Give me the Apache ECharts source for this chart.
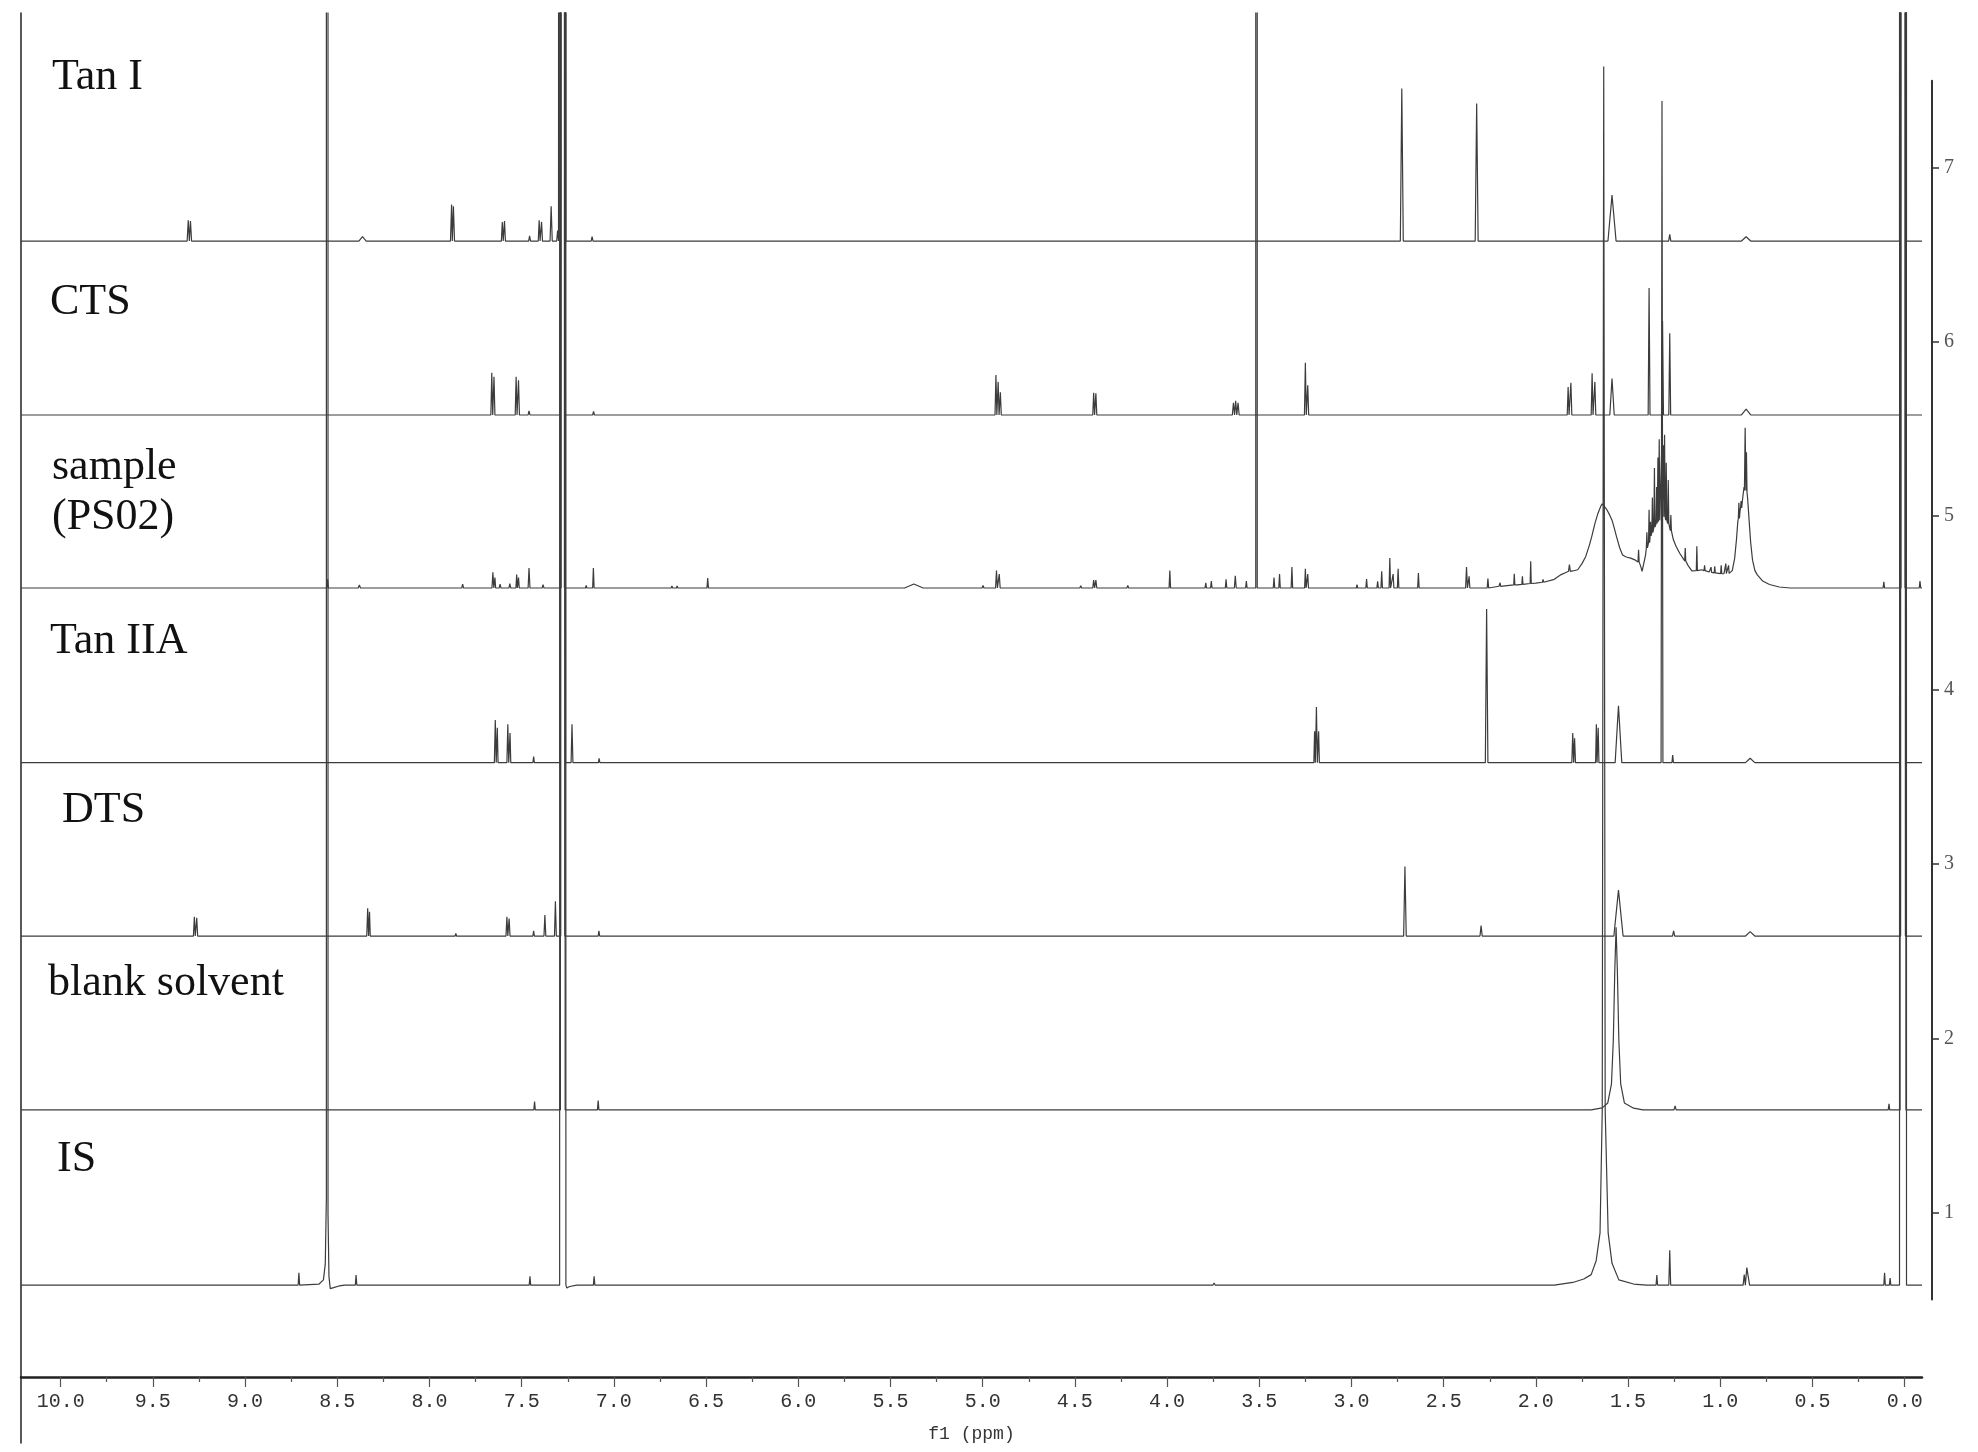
<!DOCTYPE html>
<html>
<head>
<meta charset="utf-8">
<script src="https://cdn.jsdelivr.net/npm/echarts@6/dist/echarts.min.js"></script>
<style>html,body{margin:0;padding:0;background:#fff}#c{width:1978px;height:1452px}</style>
</head>
<body>
<div id="c"></div>
<script>
// ---------------- data ----------------
// peaks: [ppm, top height above the trace's baseline, half width at base (ppm), base level (optional)]
// outlines: [ppm, height] points of broad shapes
var XMIN = -0.094, XMAX = 10.215;
var OFF = 200; // off-scale peaks (clipped at the top of the plot)

var labels = ['Tan I', 'CTS', 'sample', '(PS02)', 'Tan IIA', 'DTS', 'blank solvent', 'IS'];
var baselines = [6.579, 5.580, 4.586, 3.583, 2.587, 1.588, 0.582]; // Tan I, CTS, sample, Tan IIA, DTS, blank, IS

var xTickValues = [0, 0.5, 1, 1.5, 2, 2.5, 3, 3.5, 4, 4.5, 5, 5.5, 6, 6.5, 7, 7.5, 8, 8.5, 9, 9.5, 10];
var xMinorTickValues = [0.25, 0.75, 1.25, 1.75, 2.25, 2.75, 3.25, 3.75, 4.25, 4.75, 5.25, 5.75, 6.25, 6.75, 7.25, 7.75, 8.25, 8.75, 9.25, 9.75];
var yTickValues = [1, 2, 3, 4, 5, 6, 7];

var tanIPeaks = [
  [9.308, 0.12, 0.006], [9.296, 0.115, 0.006], [8.363, 0.025, 0.02],
  [7.880, 0.21, 0.006], [7.870, 0.20, 0.006],
  [7.605, 0.11, 0.005], [7.593, 0.115, 0.005],
  [7.457, 0.03, 0.005], [7.405, 0.12, 0.005], [7.392, 0.11, 0.005],
  [7.340, 0.20, 0.006], [7.305, 0.06, 0.005], [7.277, OFF, 0.017],
  [7.118, 0.025, 0.005], [6.49, 0.01, 0.005], [5.585, 0.008, 0.005], [5.32, 0.008, 0.005],
  [2.727, 0.877, 0.008], [2.62, 0.008, 0.005], [2.36, 0.008, 0.005], [2.321, 0.79, 0.008],
  [2.0, 0.006, 0.005], [1.587, 0.264, 0.022], [1.274, 0.038, 0.006], [0.86, 0.025, 0.025],
  [0.10, 0.01, 0.005], [0.009, OFF, 0.019]
];

var ctsPeaks = [
  [7.662, 0.243, 0.005], [7.650, 0.22, 0.005], [7.530, 0.22, 0.005], [7.517, 0.20, 0.005],
  [7.46, 0.023, 0.005], [7.277, OFF, 0.013], [7.11, 0.02, 0.005], [6.49, 0.008, 0.005],
  [4.928, 0.23, 0.005], [4.916, 0.19, 0.005], [4.904, 0.13, 0.005],
  [4.398, 0.128, 0.005], [4.386, 0.125, 0.005],
  [3.640, 0.07, 0.006], [3.628, 0.082, 0.006], [3.615, 0.07, 0.006],
  [3.250, 0.30, 0.005], [3.237, 0.17, 0.005], [2.19, 0.006, 0.005],
  [1.825, 0.16, 0.005], [1.810, 0.185, 0.005], [1.695, 0.24, 0.005], [1.680, 0.19, 0.005],
  [1.587, 0.21, 0.012], [1.386, 0.73, 0.005], [1.313, 0.54, 0.005], [1.274, 0.47, 0.005],
  [0.86, 0.033, 0.025], [0.009, OFF, 0.015]
];

var samplePeaks = [
  [8.552, 0.05, 0.004], [8.425, 0.01, 0.005], [8.38, 0.017, 0.006], [7.99, 0.008, 0.005],
  [7.82, 0.023, 0.005], [7.70, 0.01, 0.005], [7.656, 0.09, 0.005], [7.645, 0.06, 0.004],
  [7.617, 0.023, 0.005], [7.564, 0.025, 0.005], [7.527, 0.077, 0.004], [7.517, 0.06, 0.004],
  [7.46, 0.115, 0.005], [7.384, 0.02, 0.005], [7.277, OFF, 0.009], [7.15, 0.015, 0.004],
  [7.111, 0.115, 0.004], [6.85, 0.008, 0.004], [6.685, 0.012, 0.004], [6.657, 0.012, 0.004],
  [6.491, 0.058, 0.004], [5.373, 0.023, 0.05], [4.998, 0.015, 0.005], [4.925, 0.10, 0.005],
  [4.910, 0.08, 0.005], [4.468, 0.013, 0.005], [4.398, 0.046, 0.005], [4.386, 0.045, 0.005],
  [4.213, 0.015, 0.005], [4.17, 0.01, 0.005], [3.985, 0.10, 0.004], [3.79, 0.03, 0.004],
  [3.76, 0.04, 0.004], [3.68, 0.05, 0.004], [3.63, 0.07, 0.005], [3.57, 0.04, 0.004],
  [3.515, OFF, 0.004], [3.42, 0.06, 0.004], [3.39, 0.08, 0.004], [3.323, 0.12, 0.004],
  [3.250, 0.11, 0.004], [3.237, 0.08, 0.004], [2.97, 0.02, 0.004], [2.918, 0.052, 0.004],
  [2.858, 0.038, 0.004], [2.836, 0.096, 0.004], [2.792, 0.172, 0.004], [2.774, 0.08, 0.004],
  [2.747, 0.11, 0.004], [2.637, 0.086, 0.004], [2.376, 0.12, 0.005], [2.362, 0.067, 0.004],
  [2.26, 0.054, 0.004], [2.194, 0.03, 0.003, 0.01], [2.117, 0.082, 0.003, 0.018],
  [2.073, 0.067, 0.003, 0.021], [2.028, 0.153, 0.003, 0.026], [1.961, 0.05, 0.004, 0.033],
  [1.818, 0.134, 0.005, 0.096], [1.443, 0.22, 0.003, 0.15],
  [1.398, 0.32, 0.003, 0.23], [1.386, 0.45, 0.003, 0.26], [1.378, 0.38, 0.003, 0.29],
  [1.368, 0.52, 0.003, 0.32], [1.357, 0.69, 0.003, 0.35], [1.345, 0.58, 0.003, 0.37],
  [1.338, 0.75, 0.003, 0.38], [1.331, 0.854, 0.003, 0.39], [1.318, 0.78, 0.003, 0.40],
  [1.309, 0.82, 0.003, 0.41], [1.302, 0.88, 0.003, 0.41], [1.293, 0.72, 0.003, 0.39],
  [1.282, 0.62, 0.003, 0.37], [1.268, 0.42, 0.003, 0.33],
  [1.190, 0.23, 0.003, 0.155], [1.127, 0.24, 0.003, 0.10], [1.085, 0.13, 0.003, 0.10],
  [1.050, 0.12, 0.003, 0.09], [1.030, 0.125, 0.003, 0.087], [0.995, 0.13, 0.003, 0.083],
  [0.970, 0.14, 0.003, 0.083], [0.955, 0.13, 0.003, 0.084],
  [0.899, 0.49, 0.003, 0.40], [0.887, 0.50, 0.003, 0.46], [0.865, 0.92, 0.004, 0.56],
  [0.858, 0.78, 0.003, 0.55], [0.113, 0.035, 0.004], [0.009, OFF, 0.011], [-0.083, 0.04, 0.004]
];

var sampleOutline = [
  [2.30, 0.0], [2.20, 0.01], [2.10, 0.018], [2.00, 0.028], [1.95, 0.034], [1.90, 0.05],
  [1.863, 0.077], [1.84, 0.088], [1.80, 0.098], [1.773, 0.105], [1.75, 0.14], [1.73, 0.18],
  [1.71, 0.245], [1.696, 0.30], [1.68, 0.37], [1.663, 0.43], [1.648, 0.47], [1.641, 0.484],
  [1.630, 0.47], [1.615, 0.45], [1.600, 0.42], [1.587, 0.39], [1.575, 0.345], [1.563, 0.297],
  [1.545, 0.23], [1.53, 0.19], [1.51, 0.178], [1.486, 0.172], [1.46, 0.16], [1.435, 0.15],
  [1.43, 0.12], [1.424, 0.096], [1.415, 0.14], [1.405, 0.19], [1.394, 0.24], [1.375, 0.30],
  [1.35, 0.36], [1.325, 0.40], [1.298, 0.41], [1.287, 0.38], [1.275, 0.35], [1.255, 0.28],
  [1.24, 0.24], [1.22, 0.2], [1.20, 0.167], [1.175, 0.13], [1.154, 0.098], [1.13, 0.1],
  [1.10, 0.105], [1.06, 0.092], [1.02, 0.085], [0.98, 0.082], [0.945, 0.085], [0.935, 0.1],
  [0.922, 0.17], [0.912, 0.28], [0.905, 0.38], [0.893, 0.44], [0.878, 0.52], [0.871, 0.58],
  [0.852, 0.52], [0.843, 0.38], [0.835, 0.26], [0.825, 0.16], [0.812, 0.1], [0.80, 0.077],
  [0.77, 0.04], [0.733, 0.02], [0.68, 0.006], [0.62, 0.0]
];

var tanIIAPeaks = [
  [7.643, 0.245, 0.005], [7.632, 0.20, 0.004], [7.575, 0.22, 0.005], [7.563, 0.17, 0.004],
  [7.435, 0.035, 0.004], [7.277, OFF, 0.015], [7.227, 0.22, 0.005], [7.08, 0.025, 0.004],
  [6.99, 0.006, 0.004], [6.80, 0.006, 0.004], [6.49, 0.008, 0.004], [5.49, 0.006, 0.005],
  [3.200, 0.18, 0.004], [3.190, 0.32, 0.005], [3.178, 0.18, 0.004],
  [2.267, 0.883, 0.007], [1.800, 0.17, 0.005], [1.790, 0.14, 0.005],
  [1.672, 0.22, 0.004], [1.662, 0.20, 0.004], [1.552, 0.326, 0.018],
  [1.316, 3.80, 0.005], [1.258, 0.044, 0.004], [0.838, 0.025, 0.025], [0.009, OFF, 0.017]
];

var dtsPeaks = [
  [9.275, 0.11, 0.005], [9.262, 0.105, 0.005], [8.335, 0.16, 0.005], [8.325, 0.14, 0.004],
  [7.857, 0.015, 0.004], [7.580, 0.11, 0.005], [7.568, 0.10, 0.005], [7.435, 0.03, 0.004],
  [7.374, 0.12, 0.005], [7.317, 0.20, 0.005], [7.277, OFF, 0.011], [7.081, 0.03, 0.004],
  [2.710, 0.40, 0.007], [2.297, 0.06, 0.006], [1.552, 0.264, 0.025], [1.253, 0.03, 0.006],
  [0.838, 0.025, 0.025], [0.009, OFF, 0.013]
];

var blankPeaks = [
  [7.43, 0.048, 0.004], [7.277, OFF, 0.013], [7.085, 0.054, 0.004], [3.71, 0.01, 0.004],
  [2.09, 0.01, 0.004], [1.245, 0.023, 0.006], [0.085, 0.035, 0.004], [0.009, OFF, 0.016]
];
var blankOutline = [
  [1.70, 0.0], [1.64, 0.012], [1.61, 0.04], [1.59, 0.15], [1.58, 0.4], [1.572, 0.8], [1.565, 1.05],
  [1.558, 0.8], [1.55, 0.4], [1.54, 0.15], [1.52, 0.04], [1.47, 0.01], [1.42, 0.0]
];

var isPeaks = [
  [8.708, 0.07, 0.004], [8.398, 0.057, 0.004], [7.455, 0.05, 0.004], [7.277, OFF, 0.017],
  [7.107, 0.05, 0.004], [3.745, 0.012, 0.006], [1.344, 0.057, 0.004], [1.274, 0.20, 0.005],
  [0.870, 0.06, 0.006], [0.856, 0.10, 0.015], [0.109, 0.07, 0.004], [0.079, 0.04, 0.004],
  [0.009, OFF, 0.019]
];
var isOutline = [
  [8.60, 0.005], [8.575, 0.03], [8.565, 0.12], [8.559, 0.5], [8.556, OFF], [8.553, OFF],
  [8.55, 0.4], [8.545, 0.05], [8.538, -0.02], [8.52, -0.015], [8.49, -0.005], [8.46, 0],
  [7.255, -0.017], [7.24, -0.008], [7.20, 0],
  [1.90, 0.0], [1.80, 0.015], [1.74, 0.035], [1.70, 0.06], [1.673, 0.14], [1.652, 0.3], [1.640, 1.0],
  [1.632, 7.0], [1.624, 1.0], [1.608, 0.3], [1.587, 0.125], [1.55, 0.03], [1.47, 0.006], [1.40, 0.0]
];

// ---------------- build traces ----------------
function buildTrace(base, peaks, outline) {
  var pts = [[XMAX, 0], [XMIN, 0]];
  (outline || []).forEach(function (p) { pts.push([p[0], p[1]]); });
  peaks.forEach(function (p) {
    var b = p.length > 3 ? p[3] : 0;
    pts.push([p[0] + p[2], b], [p[0], p[1]], [p[0] - p[2], b]);
  });
  pts.sort(function (a, b) { return b[0] - a[0]; });
  return pts.map(function (p) { return [p[0], base + p[1]]; });
}

var traces = [
  buildTrace(baselines[0], tanIPeaks),
  buildTrace(baselines[1], ctsPeaks),
  buildTrace(baselines[2], samplePeaks, sampleOutline),
  buildTrace(baselines[3], tanIIAPeaks),
  buildTrace(baselines[4], dtsPeaks),
  buildTrace(baselines[5], blankPeaks, blankOutline),
  buildTrace(baselines[6], isPeaks, isOutline)
];

var series = traces.map(function (d) {
  return {
    type: 'line', xAxisIndex: 0, yAxisIndex: 0, data: d, showSymbol: false, symbol: 'none',
    clip: true, silent: true, animation: false,
    lineStyle: { color: '#3c3c3c', width: 1.2 }
  };
});

// label placement (px)
var labelPos = [[52, 77], [50, 302], [52, 467], [52, 517], [50, 641], [62, 810], [48, 983], [57, 1159]];
var graphics = labels.map(function (t, i) {
  return {
    type: 'text', x: labelPos[i][0], y: labelPos[i][1], silent: true,
    style: { text: t, font: '44px "Liberation Serif", "Times New Roman", serif', fill: '#111', align: 'left', verticalAlign: 'middle' }
  };
});

var monoFont = '"Liberation Mono", "DejaVu Sans Mono", monospace';
var chart = echarts.init(document.getElementById('c'), null, { renderer: 'canvas' });
chart.setOption({
  animation: false,
  backgroundColor: '#fff',
  grid: [
    { left: 21, right: 56, top: 13, bottom: 75 },
    { left: 1900, right: 46, top: 80.7, bottom: 152.6 },
    { left: 21, right: 56, top: 1377, bottom: 9 },
    { left: 21, right: 56, top: 1360, bottom: 75 }
  ],
  xAxis: [
    {
      gridIndex: 0, type: 'value', inverse: true, min: XMIN, max: XMAX, position: 'bottom',
      axisLine: { onZero: false, lineStyle: { color: '#222', width: 2.5 } },
      axisTick: { customValues: xTickValues, length: 10, lineStyle: { color: '#555', width: 1.2 } },
      axisLabel: {
        customValues: xTickValues, margin: 15, color: '#333', fontSize: 20,
        fontFamily: monoFont,
        formatter: function (v) { return Number(v).toFixed(1); }
      },
      splitLine: { show: false },
      name: 'f1 (ppm)', nameLocation: 'middle', nameGap: 48,
      nameTextStyle: { color: '#333', fontSize: 18, fontFamily: monoFont }
    },
    { gridIndex: 1, type: 'value', show: false, min: 0, max: 1 },
    { gridIndex: 2, type: 'value', show: false, min: 0, max: 1 },
    {
      gridIndex: 3, type: 'value', inverse: true, min: XMIN, max: XMAX, position: 'bottom',
      axisLine: { show: false, onZero: false },
      axisTick: { customValues: xMinorTickValues, length: 5, lineStyle: { color: '#555', width: 1.2 } },
      axisLabel: { show: false }, splitLine: { show: false }
    }
  ],
  yAxis: [
    {
      gridIndex: 0, type: 'value', min: 0.054, max: 7.889, position: 'left',
      axisLine: { show: true, onZero: false, lineStyle: { color: '#222', width: 1.5 } },
      axisTick: { show: false }, axisLabel: { show: false }, splitLine: { show: false }
    },
    {
      gridIndex: 1, type: 'value', min: 0.5, max: 7.5, position: 'right',
      axisLine: { show: true, onZero: false, lineStyle: { color: '#333', width: 2 } },
      axisTick: { show: true, customValues: yTickValues, length: 7, lineStyle: { color: '#333', width: 1.5 } },
      axisLabel: { customValues: yTickValues, margin: 12, color: '#555', fontSize: 20, fontFamily: '"Liberation Serif", serif' },
      splitLine: { show: false }
    },
    {
      gridIndex: 2, type: 'value', min: 0, max: 1, position: 'left',
      axisLine: { show: true, onZero: false, lineStyle: { color: '#222', width: 1.5 } },
      axisTick: { show: false }, axisLabel: { show: false }, splitLine: { show: false }
    },
    { gridIndex: 3, type: 'value', show: false, min: 0, max: 1 }
  ],
  series: series,
  graphic: graphics
});
</script>
</body>
</html>
